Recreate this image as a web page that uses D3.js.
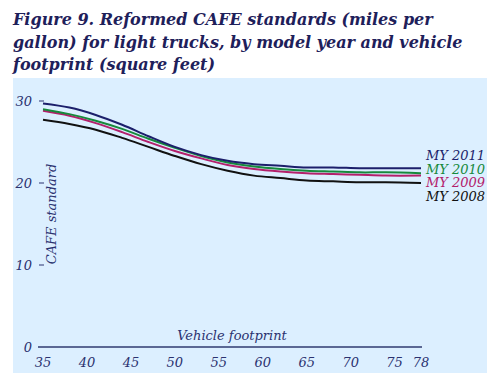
<!DOCTYPE html>
<html>
<head>
  <style>
    body { margin: 0; background: white; }
    svg { display: block; }
    .title { font-family: "DejaVu Serif", serif; font-weight: bold; font-style: italic; font-size: 16px; fill: #1e205a; }
    .tick-label { font-family: "DejaVu Serif", serif; font-style: italic; font-size: 13px; fill: #2b3270; }
    .axis-label { font-family: "DejaVu Serif", serif; font-style: italic; font-size: 13px; fill: #2b3270; }
    .series-label { font-family: "DejaVu Serif", serif; font-style: italic; font-size: 13px; }
  </style>
</head>
<body>
  <div id="chart"></div>

  <script src="https://cdnjs.cloudflare.com/ajax/libs/d3/7.8.5/d3.min.js"></script>
  <script>
    const footprint = [35, 38, 41, 44, 47, 50, 53, 56, 59, 62, 65, 68, 71, 74, 78];

    const my2008 = [27.7, 27.2, 26.5, 25.5, 24.4, 23.3, 22.3, 21.5, 20.9, 20.6, 20.3, 20.2, 20.1, 20.1, 20.0];
    const my2009 = [28.8, 28.2, 27.3, 26.2, 25.0, 23.9, 23.0, 22.2, 21.7, 21.4, 21.2, 21.1, 21.0, 20.9, 20.9];
    const my2010 = [29.0, 28.4, 27.6, 26.6, 25.4, 24.3, 23.3, 22.5, 22.0, 21.7, 21.5, 21.4, 21.3, 21.3, 21.2];
    const my2011 = [29.7, 29.2, 28.3, 27.1, 25.7, 24.4, 23.4, 22.7, 22.3, 22.1, 21.9, 21.9, 21.8, 21.8, 21.8];

    const seriesNames = ["MY 2011", "MY 2010", "MY 2009", "MY 2008"];
    const seriesValues = [my2011, my2010, my2009, my2008];
    const seriesColors = ["#1c1f6b", "#17893c", "#b3206b", "#111111"];

    const xTicks = [35, 40, 45, 50, 55, 60, 65, 70, 75, 78];
    const yTicks = [0, 10, 20, 30];

    const titleLines = [
      "Figure 9. Reformed CAFE standards (miles per",
      "gallon) for light trucks, by model year and vehicle",
      "footprint (square feet)"
    ];

    const width = 500, height = 383;

    const svg = d3.select("#chart")
      .append("svg")
      .attr("width", width)
      .attr("height", height);

    // title
    svg.append("text")
      .attr("class", "title")
      .selectAll("tspan")
      .data(titleLines)
      .join("tspan")
      .attr("x", 13)
      .attr("y", (d, i) => 25 + i * 22.5)
      .text(d => d);

    // panel
    svg.append("rect")
      .attr("x", 13)
      .attr("y", 78)
      .attr("width", 474)
      .attr("height", 295)
      .attr("fill", "#dcefff");

    const x = d3.scaleLinear().domain([35, 78]).range([43, 421]);
    const y = d3.scaleLinear().domain([0, 30]).range([347, 101]);

    // y ticks
    const yg = svg.append("g");
    yTicks.forEach(t => {
      yg.append("text")
        .attr("class", "tick-label")
        .attr("x", 32)
        .attr("y", y(t))
        .attr("dy", "0.35em")
        .attr("text-anchor", "end")
        .text(t);
      if (t > 0) {
        yg.append("line")
          .attr("x1", 39).attr("x2", 44)
          .attr("y1", y(t)).attr("y2", y(t))
          .attr("stroke", "#2b3270")
          .attr("stroke-width", 1);
      }
    });

    // x axis line
    svg.append("line")
      .attr("x1", 38).attr("x2", 422)
      .attr("y1", y(0)).attr("y2", y(0))
      .attr("stroke", "#5b6894")
      .attr("stroke-width", 2);

    // x tick labels
    svg.append("g")
      .selectAll("text")
      .data(xTicks)
      .join("text")
      .attr("class", "tick-label")
      .attr("x", d => x(d))
      .attr("y", 367)
      .attr("text-anchor", "middle")
      .text(d => d);

    // axis titles
    svg.append("text")
      .attr("class", "axis-label")
      .attr("x", 232)
      .attr("y", 340)
      .attr("text-anchor", "middle")
      .text("Vehicle footprint");

    svg.append("text")
      .attr("class", "axis-label")
      .attr("transform", "translate(56,214) rotate(-90)")
      .attr("text-anchor", "middle")
      .text("CAFE standard");

    // lines
    const line = d3.line()
      .x((d, i) => x(footprint[i]))
      .y(d => y(d))
      .curve(d3.curveCatmullRom.alpha(0.5));

    svg.append("g")
      .selectAll("path")
      .data(seriesValues.slice().reverse())
      .join("path")
      .attr("d", d => line(d))
      .attr("fill", "none")
      .attr("stroke", (d, i) => seriesColors[seriesColors.length - 1 - i])
      .attr("stroke-width", 2);

    // series labels
    svg.append("g")
      .selectAll("text")
      .data(seriesNames)
      .join("text")
      .attr("class", "series-label")
      .attr("x", 426)
      .attr("y", (d, i) => 160 + i * 13.5)
      .attr("fill", (d, i) => seriesColors[i])
      .text(d => d);
  </script>
</body>
</html>
